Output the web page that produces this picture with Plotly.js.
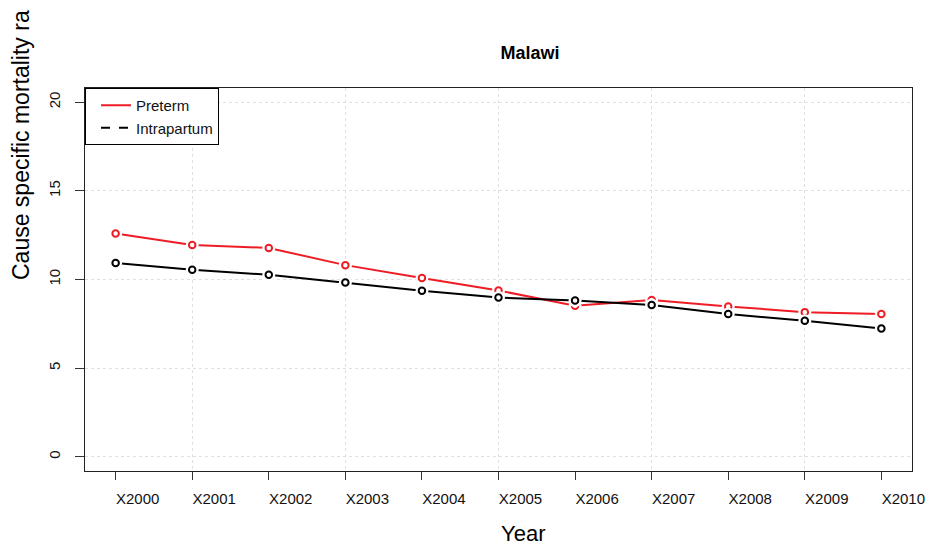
<!DOCTYPE html>
<html>
<head>
<meta charset="utf-8">
<script src="https://cdn.plot.ly/plotly-3.0.1.min.js"></script>
<style>
  html, body { margin: 0; padding: 0; background: #fff; }
  #chart { width: 930px; height: 547px; }
</style>
</head>
<body>
<div id="chart"></div>
<script>
// Cause specific mortality rates, Malawi, 2000-2010
const years = ["X2000", "X2001", "X2002", "X2003", "X2004", "X2005", "X2006", "X2007", "X2008", "X2009", "X2010"];
const preterm = [12.60, 11.95, 11.78, 10.81, 10.09, 9.38, 8.52, 8.85, 8.48, 8.16, 8.05];
const intrapartum = [10.93, 10.55, 10.27, 9.83, 9.36, 8.98, 8.81, 8.56, 8.05, 7.67, 7.24];
const yTicks = [0, 5, 10, 15, 20];
const gridX = [2, 4, 6, 8, 10];

const idx = years.map((_, i) => i + 1);
const FONT = "Liberation Sans, Arial, sans-serif";

// one series drawn R "type=b" style: line, white gap around points, hollow circles
function series(values, color) {
  return [
    { x: idx, y: values, mode: "lines", line: { color: color, width: 2 }, showlegend: false, hoverinfo: "skip" },
    { x: idx, y: values, mode: "markers", marker: { symbol: "circle", size: 13, color: "#ffffff", line: { width: 0 } }, showlegend: false, hoverinfo: "skip" },
    { x: idx, y: values, mode: "markers", marker: { symbol: "circle-open", size: 6.5, color: color, line: { width: 2, color: color } }, showlegend: false }
  ];
}

const traces = [
  ...series(preterm, "#ee1c25"),
  ...series(intrapartum, "#000000"),
  // legend entries
  { x: [null], y: [null], mode: "lines", name: "Preterm", line: { color: "#ee1c25", width: 2 } },
  { x: [null], y: [null], mode: "lines", name: "Intrapartum", line: { color: "#000000", width: 2, dash: "dash" } }
];

const layout = {
  width: 930, height: 547,
  margin: { l: 85, r: 18, t: 88, b: 76, pad: 0 },
  paper_bgcolor: "#ffffff", plot_bgcolor: "#ffffff",
  font: { family: FONT, size: 15, color: "#111" },
  showlegend: true,
  legend: {
    x: 0, y: 1, xanchor: "left", yanchor: "top",
    bgcolor: "#ffffff", bordercolor: "#000000", borderwidth: 1,
    font: { family: FONT, size: 15, color: "#111" },
    indentation: 10,
    tracegroupgap: 0
  },
  xaxis: {
    range: [0.6, 11.4], tickmode: "array", tickvals: idx, ticktext: years,
    ticks: "outside", ticklen: 8, tickcolor: "#333", tickwidth: 1,
    ticklabelshift: 22, ticklabelstandoff: 6,
    showgrid: false, zeroline: false,
    showline: true, linecolor: "#222", linewidth: 1, mirror: true,
    minor: { tickvals: gridX, showgrid: true, gridcolor: "#e0e0e0", griddash: "dot", gridwidth: 1, ticks: "" },
    tickfont: { family: FONT, size: 15, color: "#111" }
  },
  yaxis: {
    range: [-0.8, 20.8], tickmode: "array", tickvals: yTicks,
    ticks: "outside", ticklen: 9, tickcolor: "#333", tickwidth: 1,
    tickangle: -90, ticklabelstandoff: 9,
    showgrid: true, gridcolor: "#e0e0e0", griddash: "dot", gridwidth: 1, zeroline: false,
    showline: true, linecolor: "#222", linewidth: 1, mirror: true,
    tickfont: { family: FONT, size: 15, color: "#111" }
  },
  title: {
    text: "<b>Malawi</b>",
    font: { family: FONT, size: 18, color: "#000" },
    xref: "paper", x: 0.538, xanchor: "center",
    yref: "container", y: 1 - 53 / 547, yanchor: "middle"
  },
  annotations: [
    {
      text: "Year", xref: "paper", yref: "paper",
      x: (523 - 85) / 827, y: -(533 - 471) / 383, xanchor: "center", yanchor: "middle",
      showarrow: false, font: { family: FONT, size: 22, color: "#000" }
    },
    {
      text: "Cause specific mortality ra", textangle: -90,
      xref: "paper", yref: "paper",
      x: -(85 - 21) / 827, y: (471 - 145) / 383, xanchor: "center", yanchor: "middle",
      showarrow: false, font: { family: FONT, size: 23, color: "#000" }
    }
  ]
};

Plotly.newPlot("chart", traces, layout, { displayModeBar: false, staticPlot: true });
</script>
</body>
</html>
